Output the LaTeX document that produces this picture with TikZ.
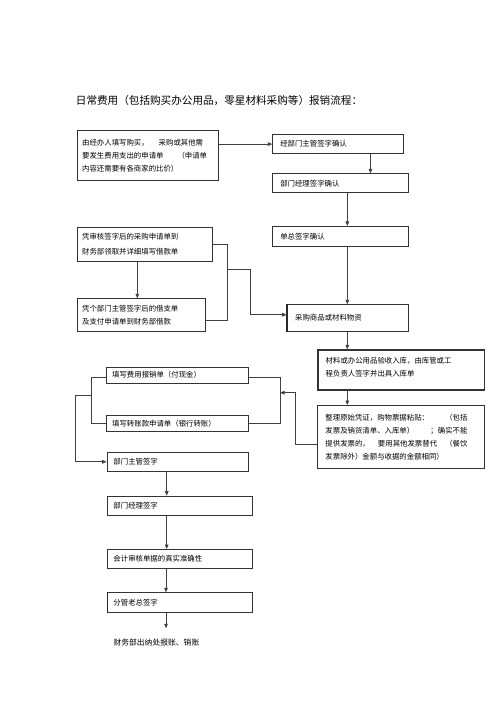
\documentclass[tikz,border=0pt]{standalone}
\usepackage{fontspec}
\newfontfamily\cjk{Noto Sans CJK SC}
\usetikzlibrary{arrows.meta,calc}
\begin{document}
\begin{tikzpicture}[x=1pt,y=-1pt,
  box/.style={draw=black!80, line width=0.9pt, inner xsep=5pt, inner ysep=0pt,
    anchor=north west, align=left, font=\cjk\fontsize{7.4}{13}\selectfont},
  line/.style={draw=black!75, line width=0.9pt},
  arr/.style={line, -{Triangle[length=4.5pt,width=3.6pt]}},
  lbl/.style={font=\cjk\fontsize{7.8}{10}\selectfont, inner sep=0pt, anchor=west}]
\useasboundingbox (0,0) rectangle (500,708);
\fill[white] (0,0) rectangle (500,708);

\node[lbl, font=\cjk\fontsize{10.6}{12}\selectfont] (title) at (75.7,100.7)
  {日常费用（包括购买办公用品，零星材料采购等）报销流程：};

% boxes
\node[box, minimum width=141.6pt, minimum height=50pt, text width=131.6pt] (b1) at (76.7,130)
  {由经办人填写购买，\hspace{10pt}采购或其他需\\要发生费用支出的申请单\hspace{14pt}（申请单\\内容还需要有各商家的比价）};
\node[box, inner xsep=7.5pt, minimum width=130.4pt, minimum height=19.3pt, text width=115.4pt] (b2) at (272.3,134)
  {经部门主管签字确认};
\node[box, inner xsep=7.5pt, minimum width=136pt, minimum height=19pt, text width=121pt] (b3) at (272.3,173.3)
  {部门经理签字确认};
\node[box, inner xsep=7.5pt, minimum width=136pt, minimum height=20pt, text width=121pt] (b4) at (272.3,226)
  {单总签字确认};
\node[box, font=\cjk\fontsize{7.4}{14.3}\selectfont, minimum width=135pt, minimum height=34.3pt, text width=125pt] (b5) at (76.7,226.7)
  {凭审核签字后的采购申请单到\\财务部领取并详细填写借款单};
\node[box, minimum width=127.8pt, minimum height=32.4pt, text width=117.8pt] (b6) at (76.7,298.3)
  {凭个部门主管签字后的借支单\\及支付申请单到财务部借款};
\node[box, inner xsep=8pt, minimum width=121.6pt, minimum height=26.4pt, text width=105.6pt] (b7) at (286.7,304.3)
  {\raisebox{2pt}{采购商品或材料物资}};
\draw[black!85, line width=1.6pt] (b7.north west) -- (b7.south west);
\node[box, line width=1.4pt, inner xsep=7.7pt, minimum width=166.7pt, minimum height=40pt, text width=151.3pt] (b8) at (317.3,349.3)
  {材料或办公用品验收入库，由库管或工\\程负责人签字并出具入库单\\[-7pt]\mbox{}};
\node[box, inner xsep=7.7pt, minimum width=166.7pt, minimum height=62.7pt, text width=151.3pt] (b9) at (317.3,405)
  {\makebox[142pt][s]{整理原始凭证，购物票据粘贴：\hfill（包括}\\
   \makebox[142pt][s]{发票及销货清单、入库单）\hfill；确实不能}\\
   \makebox[142pt][s]{提供发票的，\hfill 要用其他发票替代\hfill（餐饮}\\
   发票除外）金额与收据的金额相同）};
\node[box, inner xsep=6pt, minimum width=142.6pt, minimum height=16pt, text width=130.6pt] (b10) at (105.7,366.7)
  {填写费用报销单（付现金）};
\node[box, inner xsep=6pt, minimum width=142.6pt, minimum height=15.7pt, text width=130.6pt] (b11) at (105.7,415)
  {填写转账款申请单（银行转账）};
\node[box, inner xsep=6.3pt, minimum width=141.6pt, minimum height=19.3pt, text width=129pt] (b12) at (106.7,451.7)
  {部门主管签字};
\node[box, inner xsep=5.7pt, minimum width=144.4pt, minimum height=19.3pt, text width=133pt] (b13) at (107.3,495.7)
  {部门经理签字};
\node[box, inner xsep=5.7pt, minimum width=144.4pt, minimum height=19.3pt, text width=133pt] (b14) at (107.3,549)
  {会计审核单据的真实准确性};
\node[box, inner xsep=5.7pt, minimum width=144.4pt, minimum height=19.3pt, text width=133pt] (b15) at (107.3,592.3)
  {分管老总签字};
\draw[black!85, line width=1.6pt] (b15.north west) -- (b15.south west);
\node[lbl] (fin) at (113.3,642.3) {财务部出纳处报账、销账};

% helper coordinates
\coordinate (xa) at (347.3,0);
\coordinate (xb) at (137.3,0);
\coordinate (xd) at (166.7,0);
\coordinate (xe) at (166,0);
\coordinate (bk1) at (227.3,320.7);
\coordinate (bk2) at (227.3,269);
\coordinate (bk3) at (250,269);
\coordinate (rk) at (295,392.7);
\coordinate (rj) at (280,392.7);
\coordinate (rb) at (280,423.3);
\coordinate (lb) at (91.7,423.3);
\coordinate (lj) at (91.7,395);
\coordinate (lx) at (75.7,0);
\coordinate (endp) at (166,628.3);

% connectors
\draw[arr] (b2.west -| b1.east) -- (b2.west);
\draw[arr] ([xshift=32.5pt]b2.south) -- ([xshift=32.5pt]b2.south |- b3.north);
\draw[arr] (b3.south -| xa) -- (b4.north -| xa);
\draw[arr] (b4.south -| xa) -- (b7.north -| xa);
\draw[arr] (b7.south -| xa) -- (b8.north -| xa);
\draw[arr] (b8.south -| xa) -- (b9.north -| xa);
\draw[arr] (b5.south -| xb) -- (b6.north -| xb);
\draw[line] (b5.east) -| (bk1) -- (bk1 -| b6.east);
\draw[arr] (bk2) -- (bk3) |- ([yshift=3.2pt]b7.west);
\draw[arr] ([yshift=-8pt]b9.west) -| (rk) -- (rj);
\draw[line] ([yshift=-2pt]b10.east) -| (rb) -- (rb -| b11.east);
\draw[line] ([yshift=-2pt]b10.west) -| (lb) -- (lb -| b11.west);
\draw[arr] (lj) -- (lj -| lx) |- (b12.west);
\draw[arr] (b12.south -| xd) -- (b13.north -| xd);
\draw[arr] (b13.south -| xd) -- (b14.north -| xd);
\draw[arr] (b14.south -| xe) -- (b15.north -| xe);
\draw[arr] (b15.south -| xe) -- (endp);
\end{tikzpicture}
\end{document}
